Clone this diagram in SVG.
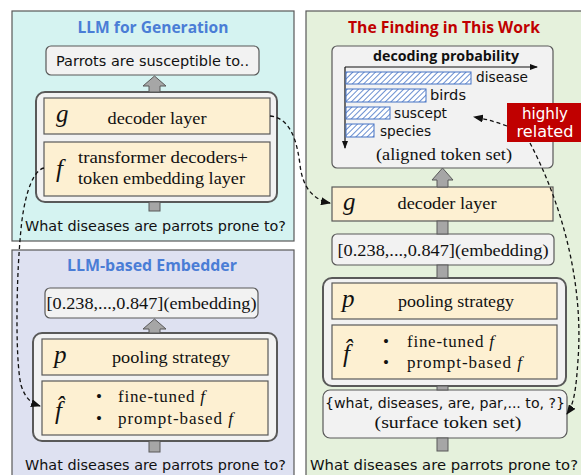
<svg xmlns="http://www.w3.org/2000/svg" width="581" height="475" viewBox="0 0 581 475">
<style>
.panel{stroke:#595959;stroke-width:1.2}
.gbox{fill:#f2f2f2;stroke:#595959;stroke-width:1.2}
.cont{fill:#f2f2f2;stroke:#595959;stroke-width:2}
.cream{fill:#fdf0d2;stroke:#595959;stroke-width:1.2}
.blk{fill:#a6a6a6;stroke:#595959;stroke-width:1}
.title{font-family:"Open Sans","Liberation Sans",sans-serif;font-weight:bold;font-size:16px;text-anchor:middle}
.comic{font-family:"DejaVu Sans","Liberation Sans",sans-serif;font-size:14px;fill:#111}
.serif{font-family:"Liberation Serif","DejaVu Serif",serif;font-size:17px;fill:#111}
.math{font-family:"Liberation Serif","DejaVu Serif",serif;font-style:italic;font-size:25px;fill:#111}
.bar{fill:url(#hatch);stroke:#4472c4;stroke-width:1}
.dash{fill:none;stroke:#111;stroke-width:1.3;stroke-dasharray:4 3}
.axis{fill:none;stroke:#111;stroke-width:1.2}
</style>
<defs>
<pattern id="hatch" patternUnits="userSpaceOnUse" width="4" height="4" patternTransform="rotate(45)">
<rect width="4" height="4" fill="#ffffff"/>
<line x1="0" y1="0" x2="0" y2="4" stroke="#4472c4" stroke-width="1.6"/>
</pattern>
<marker id="ah" markerWidth="10" markerHeight="8" refX="9" refY="4" orient="auto" markerUnits="userSpaceOnUse">
<path d="M0,0 L10,4 L0,8 Z" fill="#111"/>
</marker>
<marker id="ax" markerWidth="8" markerHeight="6" refX="7" refY="3" orient="auto" markerUnits="userSpaceOnUse">
<path d="M0,0 L8,3 L0,6 Z" fill="#111"/>
</marker>
</defs>

<!-- Panels -->
<g id="panel-generation">
<rect class="panel" x="12" y="11" width="282" height="230" fill="#d5f3f1"/>
<text class="title" x="153" y="33" fill="#4a7dd6" textLength="151" lengthAdjust="spacingAndGlyphs">LLM for Generation</text>
</g>
<g id="panel-embedder">
<rect class="panel" x="12" y="250" width="282" height="230" fill="#dee1f1"/>
<text class="title" x="152" y="271" fill="#4a7dd6" textLength="170" lengthAdjust="spacingAndGlyphs">LLM-based Embedder</text>
</g>
<g id="panel-finding">
<rect class="panel" x="306" y="11" width="280" height="470" fill="#e5f1dc"/>
<text class="title" x="444" y="33" fill="#c00000" textLength="192" lengthAdjust="spacingAndGlyphs">The Finding in This Work</text>
</g>

<!-- Left top -->
<g id="gen-output">
<rect class="gbox" x="46" y="46" width="213" height="29" rx="5"/>
<text class="comic" x="152.5" y="66" text-anchor="middle" textLength="193" lengthAdjust="spacingAndGlyphs">Parrots are susceptible to..</text>
</g>
<g id="gen-model">
<rect class="cont" x="36" y="92" width="241" height="110" rx="9"/>
</g>
<g id="gen-g">
<rect class="cream" x="44" y="98" width="226" height="36"/>
<text class="math" x="56" y="122">g</text>
<text class="serif" x="157" y="124" text-anchor="middle" textLength="99" lengthAdjust="spacingAndGlyphs">decoder layer</text>
</g>
<g id="gen-f">
<rect class="cream" x="44" y="142" width="226" height="54"/>
<text class="math" x="56" y="177">f</text>
<text class="serif" x="78" y="163" textLength="170" lengthAdjust="spacingAndGlyphs">transformer decoders+</text>
<text class="serif" x="78" y="184" textLength="167" lengthAdjust="spacingAndGlyphs">token embedding layer</text>
</g>
<g id="gen-input">
<text class="comic" x="25" y="231" textLength="261" lengthAdjust="spacingAndGlyphs">What diseases are parrots prone to?</text>
</g>

<!-- Left bottom -->
<g id="emb-output">
<rect class="gbox" x="45" y="288" width="213" height="30" rx="5"/>
<text class="serif" x="151.5" y="309" text-anchor="middle" textLength="210" lengthAdjust="spacingAndGlyphs">[0.238,...,0.847](embedding)</text>
</g>
<g id="emb-model">
<rect class="cont" x="33" y="333" width="244" height="108" rx="9"/>
</g>
<g id="emb-p">
<rect class="cream" x="42" y="339" width="226" height="36"/>
<text class="math" x="54" y="363">p</text>
<text class="serif" x="171" y="363" text-anchor="middle" textLength="118" lengthAdjust="spacingAndGlyphs">pooling strategy</text>
</g>
<g id="emb-fhat">
<rect class="cream" x="42" y="381" width="226" height="54"/>
<text class="math" x="55" y="419">f̂</text>
<text class="serif" x="96" y="402">•</text>
<text class="serif" x="96" y="424">•</text>
<text class="serif" x="118" y="402" textLength="87">fine-tuned <tspan font-style="italic">f</tspan></text>
<text class="serif" x="118" y="424" textLength="115">prompt-based <tspan font-style="italic">f</tspan></text>
</g>
<g id="emb-input">
<text class="comic" x="25" y="470" textLength="261" lengthAdjust="spacingAndGlyphs">What diseases are parrots prone to?</text>
</g>

<!-- Right -->
<g id="find-decoding">
<rect class="gbox" x="332" y="46" width="221" height="122" rx="5"/>
<text x="446" y="61" text-anchor="middle" font-family="Open Sans, Liberation Sans, sans-serif" font-weight="bold" font-size="14" fill="#111" textLength="146" lengthAdjust="spacingAndGlyphs">decoding probability</text>
<line class="axis" x1="345" y1="67" x2="537" y2="67" marker-end="url(#ax)"/>
<line class="axis" x1="345" y1="67" x2="345" y2="148" marker-end="url(#ax)"/>
<rect class="bar" x="346" y="72" width="125" height="12"/>
<rect class="bar" x="346" y="89" width="80" height="13"/>
<rect class="bar" x="346" y="107" width="44" height="12"/>
<rect class="bar" x="346" y="124" width="28" height="13"/>
<text class="comic" x="476" y="82" textLength="52" lengthAdjust="spacingAndGlyphs">disease</text>
<text class="comic" x="430" y="100" textLength="36" lengthAdjust="spacingAndGlyphs">birds</text>
<text class="comic" x="394" y="118" textLength="53" lengthAdjust="spacingAndGlyphs">suscept</text>
<text class="comic" x="380" y="136" textLength="51" lengthAdjust="spacingAndGlyphs">species</text>
<text class="serif" x="444" y="160" text-anchor="middle" textLength="136" lengthAdjust="spacingAndGlyphs">(aligned token set)</text>
</g>
<g id="find-related">
<rect x="507" y="103" width="80" height="39" fill="#c00000"/>
<text class="comic" x="545" y="119" text-anchor="middle" style="fill:#fff;font-size:15px" textLength="46" lengthAdjust="spacingAndGlyphs">highly</text>
<text class="comic" x="545" y="137" text-anchor="middle" style="fill:#fff;font-size:15px" textLength="57" lengthAdjust="spacingAndGlyphs">related</text>
</g>
<g id="find-g">
<rect class="cream" x="332" y="187" width="221" height="34"/>
<text class="math" x="343" y="210">g</text>
<text class="serif" x="447" y="209" text-anchor="middle" textLength="99" lengthAdjust="spacingAndGlyphs">decoder layer</text>
</g>
<g id="find-emb">
<rect class="gbox" x="332" y="234" width="222" height="31" rx="5"/>
<text class="serif" x="443" y="256" text-anchor="middle" textLength="211" lengthAdjust="spacingAndGlyphs">[0.238,...,0.847](embedding)</text>
</g>
<g id="find-model">
<rect class="cont" x="323" y="278" width="243" height="108" rx="9"/>
</g>
<g id="find-p">
<rect class="cream" x="332" y="283" width="225" height="36"/>
<text class="math" x="342" y="307">p</text>
<text class="serif" x="456" y="307" text-anchor="middle" textLength="116" lengthAdjust="spacingAndGlyphs">pooling strategy</text>
</g>
<g id="find-fhat">
<rect class="cream" x="332" y="325" width="225" height="54"/>
<text class="math" x="343" y="362">f̂</text>
<text class="serif" x="383" y="347">•</text>
<text class="serif" x="383" y="368">•</text>
<text class="serif" x="407" y="347" textLength="87">fine-tuned <tspan font-style="italic">f</tspan></text>
<text class="serif" x="407" y="368" textLength="115">prompt-based <tspan font-style="italic">f</tspan></text>
</g>
<g id="find-surface">
<rect class="gbox" x="323" y="390" width="244" height="48" rx="7"/>
<text class="comic" x="445" y="408" text-anchor="middle" textLength="240" lengthAdjust="spacingAndGlyphs">{what, diseases, are, par,... to, ?}</text>
<text class="serif" x="448" y="428" text-anchor="middle" textLength="147" lengthAdjust="spacingAndGlyphs">(surface token set)</text>
</g>
<g id="find-input">
<text class="comic" x="310" y="470" textLength="268" lengthAdjust="spacingAndGlyphs">What diseases are parrots prone to?</text>
</g>

<!-- Connectors -->
<g id="connectors">
<polygon class="blk" points="154.5,76 166,86 160,86 160,92 149,92 149,86 143,86"/>
<rect class="blk" x="149" y="202" width="11" height="9"/>
<polygon class="blk" points="154.5,319 166,329 160,329 160,333 149,333 149,329 143,329"/>
<rect class="blk" x="149" y="441" width="11" height="11"/>
<polygon class="blk" points="442.5,168 453,180 448,180 448,187 437,187 437,180 432,180"/>
<rect class="blk" x="437" y="221" width="11" height="13"/>
<rect class="blk" x="437" y="265" width="11" height="13"/>
<rect class="blk" x="437" y="386" width="11" height="4"/>
<rect class="blk" x="437" y="438" width="11" height="13"/>
<path class="dash" d="M270,116 C290,118 297,140 300,165 C303,190 315,200 330,203" marker-end="url(#ah)"/>
<path class="dash" d="M44,168 C34,170 26,190 22,220 C16,270 15,360 21,385 C25,398 31,403 40,406" marker-end="url(#ah)"/>
<path class="dash" d="M507,126 C496,122 486,119 474,117" marker-end="url(#ah)"/>
<path class="dash" d="M530,143 C560,200 584,280 578,360 C576,390 574,404 567,414" marker-end="url(#ah)"/>
</g>
</svg>
